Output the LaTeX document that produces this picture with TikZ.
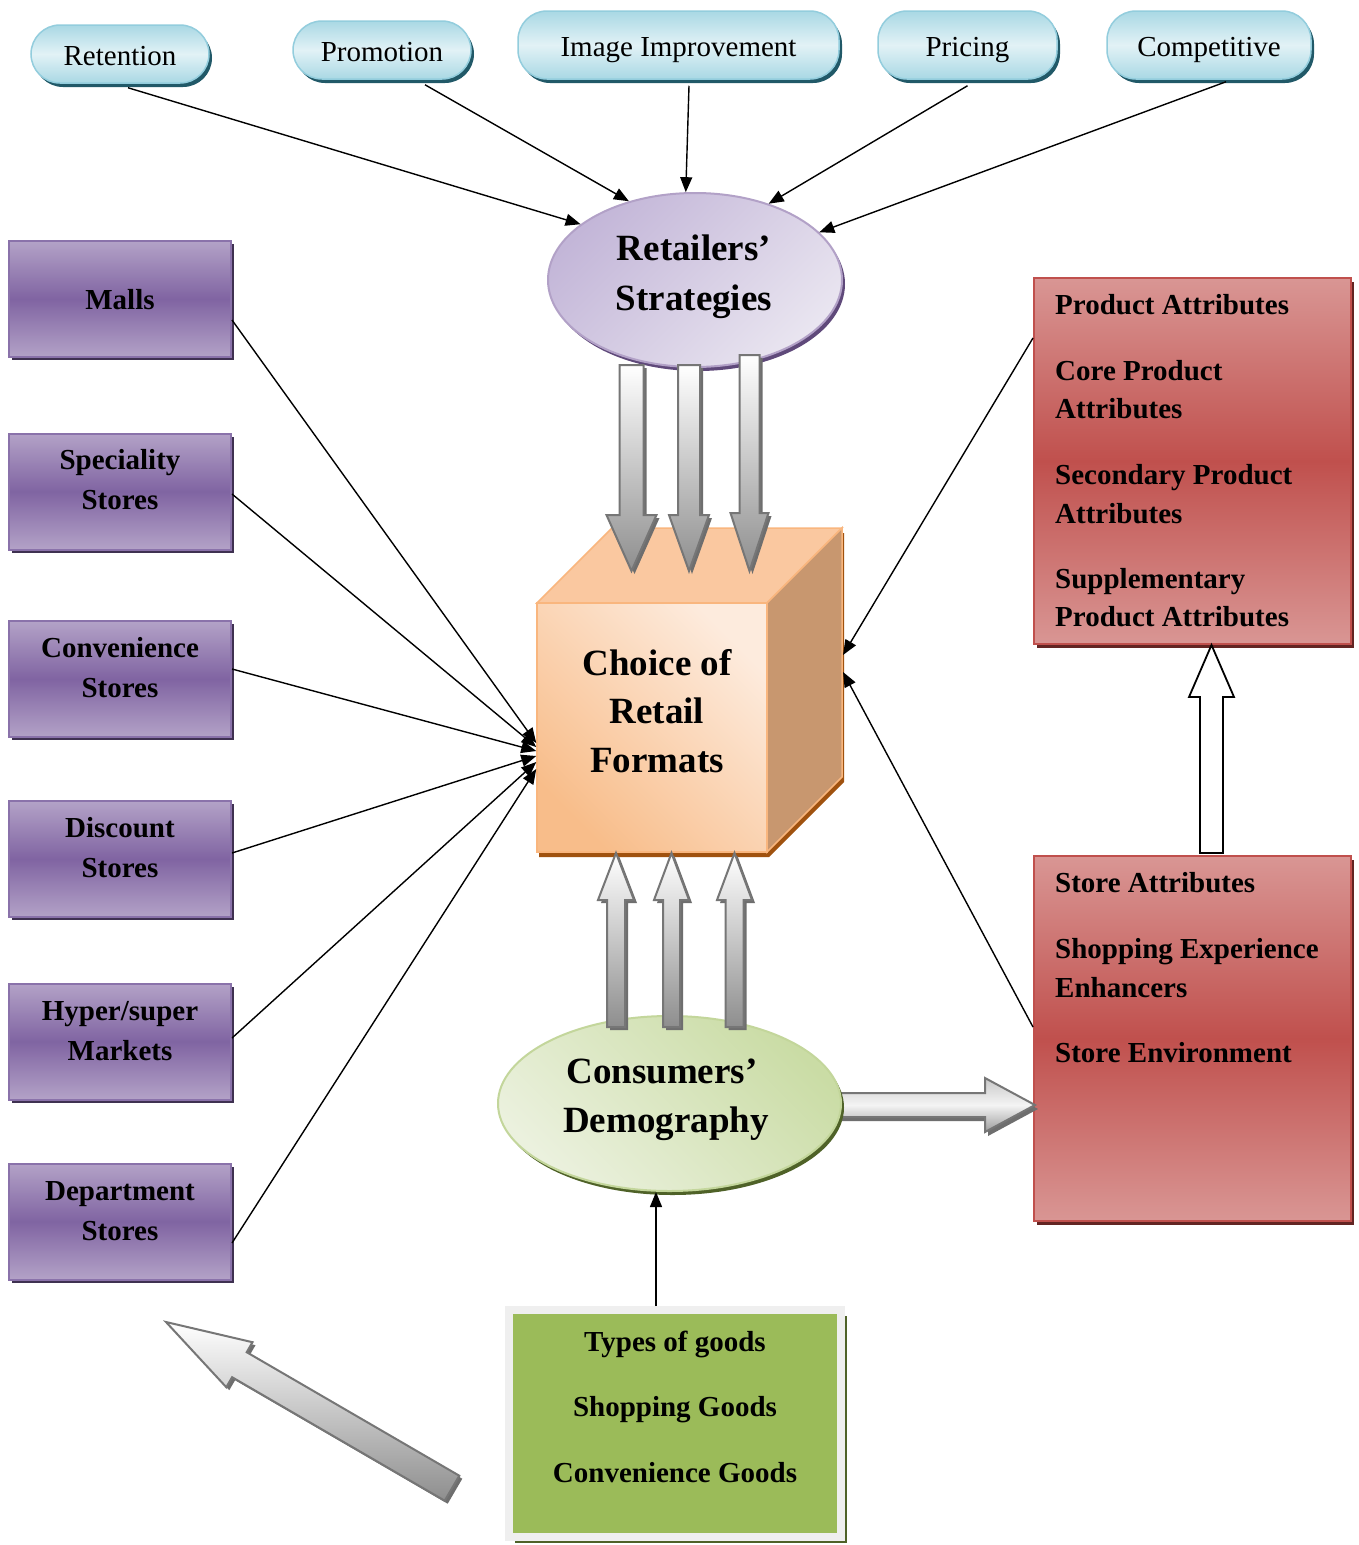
\documentclass[tikz,border=0pt]{standalone}
\usepackage{fontspec}
\setmainfont{Liberation Serif}
\usetikzlibrary{arrows.meta,shapes.geometric,shadows}

\definecolor{pillEdge}{HTML}{93CDDD}
\definecolor{pillDark}{HTML}{A9D8E4}
\definecolor{pillLight}{HTML}{E2F2F6}
\definecolor{pillShadow}{HTML}{215968}
\definecolor{purLight}{HTML}{B3A2C7}
\definecolor{purMid}{HTML}{8064A2}
\definecolor{purEdge}{HTML}{8A72AA}
\definecolor{purShadow}{HTML}{3F3151}
\definecolor{redLight}{HTML}{D99694}
\definecolor{redMid}{HTML}{C0504D}
\definecolor{redEdge}{HTML}{C0504D}
\definecolor{redShadow}{HTML}{632523}
\definecolor{lavDark}{HTML}{C3B6D8}
\definecolor{lavLight}{HTML}{E9E5F0}
\definecolor{lavEdge}{HTML}{B2A1C7}
\definecolor{lavShadow}{HTML}{5F497A}
\definecolor{grnLight}{HTML}{EBF1DE}
\definecolor{grnDark}{HTML}{CADCA5}
\definecolor{grnEdge}{HTML}{C3D69B}
\definecolor{grnShadow}{HTML}{4F6228}
\definecolor{goodsFill}{HTML}{9BBB59}
\definecolor{goodsFrame}{HTML}{EFEFEF}
\definecolor{cubeTop}{HTML}{FAC8A0}
\definecolor{cubeSide}{HTML}{C8976F}
\definecolor{cubeEdge}{HTML}{F9B67E}
\definecolor{cubeShadow}{HTML}{A0520F}
\definecolor{cubeMid}{HTML}{FCE0CA}
\definecolor{cubeUR}{HTML}{FDEBDD}
\definecolor{cubeLL}{HTML}{F8BD8A}
\definecolor{arrEdge}{HTML}{767676}
\definecolor{arrDark}{HTML}{8E8E8E}
\definecolor{arrShadow}{HTML}{6E6E6E}
\definecolor{hTop}{HTML}{C8C8C8}
\definecolor{hMid}{HTML}{F4F4F4}
\definecolor{hBot}{HTML}{9C9C9C}

% vertical block arrow: centre x, start y, head-base y, tip y, half shaft, half head
\newcommand\blockv[6]{%
  \path[blk] ({#1-#5},#2) -- ({#1+#5},#2) -- ({#1+#5},#3) -- ({#1+#6},#3)
    -- (#1,#4) -- ({#1-#6},#3) -- ({#1-#5},#3) -- cycle;}

\begin{document}
\begin{tikzpicture}[x=1pt, y=-1pt,
  pill/.style={rectangle, rounded corners=29pt, draw=pillEdge, line width=1.5pt,
    top color=pillDark, bottom color=pillDark, middle color=pillLight,
    general shadow={fill=pillShadow, shadow xshift=3pt, shadow yshift=-4pt},
    font=\fontsize{29}{34}\selectfont, text height=22pt, text depth=0pt, inner sep=0pt},
  pbox/.style={rectangle, minimum width=222pt, minimum height=116pt, draw=purEdge,
    line width=2pt, top color=purLight, bottom color=purLight, middle color=purMid,
    general shadow={fill=purShadow, shadow xshift=3pt, shadow yshift=-3pt}},
  rbox/.style={rectangle, minimum width=317pt, draw=redEdge, line width=2pt,
    top color=redLight, bottom color=redLight, middle color=redMid,
    general shadow={fill=redShadow, shadow xshift=3pt, shadow yshift=-4pt}},
  goodsbox/.style={rectangle, minimum width=332pt, minimum height=227pt, fill=goodsFill,
    draw=goodsFrame, line width=8pt,
    general shadow={fill=grnShadow, shadow xshift=6pt, shadow yshift=-6pt}},
  bigtxt/.style={font=\fontsize{37}{49}\selectfont\bfseries, inner sep=0pt, anchor=base},
  ctxt/.style={font=\fontsize{29}{40}\selectfont\bfseries, inner sep=0pt, anchor=base},
  ltxt/.style={font=\fontsize{29}{40}\selectfont\bfseries, inner sep=0pt, anchor=base west},
  blk/.style={draw=arrEdge, line width=2pt, top color=white, bottom color=arrDark,
    general shadow={fill=arrShadow, shadow xshift=3pt, shadow yshift=-3pt}},
  hblk/.style={draw=arrEdge, line width=2pt, top color=hTop, bottom color=hBot, middle color=hMid,
    general shadow={fill=arrShadow, shadow xshift=3pt, shadow yshift=-4pt}},
  hollow/.style={draw=black, line width=1.8pt, fill=white},
  conn/.style={draw=black, line width=1.4pt, -{Triangle[length=15pt,width=12pt]}}
]
\fill[white] (0,0) rectangle (1359,1545);
\useasboundingbox (0,0) rectangle (1359,1545);

% ---- strategy pills
\node[pill, minimum width=178pt, minimum height=58pt] (ret) at (120,54) {Retention};
\node[pill, minimum width=178pt, minimum height=58pt] (pro) at (382,50) {Promotion};
\node[pill, minimum width=321pt, minimum height=68pt] (img) at (678.5,45) {Image Improvement};
\node[pill, minimum width=179pt, minimum height=68pt] (pri) at (967.5,45) {Pricing};
\node[pill, minimum width=204pt, minimum height=68pt] (com) at (1209,45) {Competitive};

% ---- retailers' strategies
\node[ellipse, minimum width=294pt, minimum height=174pt, draw=lavEdge, line width=2pt,
  left color=lavDark, right color=lavLight, shading angle=45,
  general shadow={fill=lavShadow, shadow xshift=3pt, shadow yshift=-4pt}] (rs) at (695,280) {};
\node[bigtxt] (rs1) at (694,260) {Retailers’};
\node[bigtxt] (rs2) at (694,310) {Strategies};

% ---- retail format boxes
\node[pbox] (malls) at (120,299) {};
\node[pbox] (spec) at (120,491.5) {};
\node[pbox] (conv) at (120,679) {};
\node[pbox] (disc) at (120,859) {};
\node[pbox] (hyp) at (120,1041.5) {};
\node[pbox] (dep) at (120,1221.5) {};
\node[ctxt] (malls1) at (120,309) {Malls};
\node[ctxt] (spec1) at (120,469) {Speciality};
\node[ctxt] (spec2) at (120,509) {Stores};
\node[ctxt] (conv1) at (120,657) {Convenience};
\node[ctxt] (conv2) at (120,697) {Stores};
\node[ctxt] (disc1) at (120,837) {Discount};
\node[ctxt] (disc2) at (120,877) {Stores};
\node[ctxt] (hyp1) at (120,1020) {Hyper/super};
\node[ctxt] (hyp2) at (120,1060) {Markets};
\node[ctxt] (dep1) at (120,1200) {Department};
\node[ctxt] (dep2) at (120,1240) {Stores};

% ---- attribute boxes
\node[rbox, minimum height=366pt] (prod) at (1192.5,461) {};
\node[rbox, minimum height=365pt] (store) at (1192.5,1038.5) {};
\node[ltxt] (pa1) at (1055,314) {Product Attributes};
\node[ltxt] (pa2) at (1055,380) {Core Product};
\node[ltxt] (pa3) at (1055,418) {Attributes};
\node[ltxt] (pa4) at (1055,484) {Secondary Product};
\node[ltxt] (pa5) at (1055,523) {Attributes};
\node[ltxt] (pa6) at (1055,588) {Supplementary};
\node[ltxt] (pa7) at (1055,626) {Product Attributes};
\node[ltxt] (sa1) at (1055,892) {Store Attributes};
\node[ltxt] (sa2) at (1055,958) {Shopping Experience};
\node[ltxt] (sa3) at (1055,997) {Enhancers};
\node[ltxt] (sa4) at (1055,1062) {Store Environment};

% ---- hollow arrow from store to product attributes
\path[hollow] (1200,853) -- (1200,697) -- (1189,697) -- (1211.5,645) -- (1234,697)
  -- (1223,697) -- (1223,853) -- cycle;

% ---- cube: choice of retail formats
\fill[cubeShadow] (539,608) -- (614,533) -- (844,533) -- (844,782) -- (769,857) -- (539,857) -- cycle;
\filldraw[fill=cubeTop, draw=cubeEdge, line width=1.5pt]
  (537,603) -- (612,528) -- (842,528) -- (767,603) -- cycle;
\filldraw[fill=cubeSide, draw=cubeEdge, line width=1.5pt]
  (767,603) -- (842,528) -- (842,777) -- (767,852) -- cycle;
\node[rectangle, draw=cubeEdge, line width=1.5pt, left color=cubeLL, middle color=cubeMid,
  right color=cubeUR, shading angle=135, minimum width=230pt, minimum height=249pt,
  inner sep=0pt] (front) at (652,727.5) {};
\node[bigtxt] (cf1) at (657,675) {Choice of};
\node[bigtxt] (cf2) at (657,723) {Retail};
\node[bigtxt] (cf3) at (657,772) {Formats};
\coordinate (rf1) at (843,655);
\coordinate (rf2) at (843,672);

% ---- block arrows from strategies down to the cube
\blockv{631.5}{365}{515}{571}{12}{25}
\blockv{689}{365}{515}{571}{11}{20}
\blockv{749.5}{355}{513}{571}{10}{19}

% ---- consumers' demography
\path[hblk] (836,1093) -- (985,1093) -- (985,1078) -- (1035,1105) -- (985,1132)
  -- (985,1117) -- (836,1117) -- cycle;
\node[ellipse, minimum width=343pt, minimum height=175pt, draw=grnEdge, line width=2pt,
  left color=grnLight, right color=grnDark, shading angle=135,
  general shadow={fill=grnShadow, shadow xshift=3pt, shadow yshift=-4pt}] (cd) at (669.5,1103.5) {};
\node[bigtxt] (cd1) at (662,1083) {Consumers’};
\node[bigtxt] (cd2) at (666,1132) {Demography};

% ---- block arrows from demography up to the cube
\blockv{616}{1027}{900}{853}{9}{18}
\blockv{671.5}{1027}{900}{853}{8.5}{17.5}
\blockv{734.5}{1027}{900}{853}{9}{17.5}

% ---- types of goods
\node[goodsbox] (goods) at (675,1423.5) {};
\node[ctxt] (g1) at (675,1351) {Types of goods};
\node[ctxt] (g2) at (675,1416) {Shopping Goods};
\node[ctxt] (g3) at (675,1482) {Convenience Goods};

% ---- diagonal block arrow towards the format boxes
\path[blk] (166,1322) -- (252.5,1342.2) -- (246.7,1352.2) -- (459.3,1475.7)
  -- (444.7,1500.7) -- (232.1,1377.2) -- (226.3,1387.2) -- cycle;

% ---- connectors
\draw[conn] ([xshift=8pt,yshift=-4pt]ret.south) -- (rs.154);
\draw[conn] ([xshift=43pt,yshift=-5pt]pro.south) -- (rs.130.5);
\draw[conn] ([xshift=10.5pt,yshift=-6pt]img.south) -- (rs.96);
\draw[conn] ([yshift=-6pt]pri.south) -- (rs.46.5);
\draw[conn] ([xshift=17pt,yshift=-2pt]com.south) -- (rs.21);

\draw[conn] ([yshift=-21pt]malls.east) -- ([yshift=-15.5pt]front.west);
\draw[conn] ([yshift=-2.5pt]spec.east) -- ([yshift=-19.5pt]front.west);
\draw[conn] ([yshift=10pt]conv.east) -- ([yshift=-23.5pt]front.west);
\draw[conn] ([yshift=6pt]disc.east) -- ([yshift=-28.5pt]front.west);
\draw[conn] ([yshift=3.5pt]hyp.east) -- ([yshift=-34.5pt]front.west);
\draw[conn] ([yshift=-21.5pt]dep.east) -- ([yshift=-41.5pt]front.west);

\draw[conn] ([yshift=123pt]prod.west) -- (rf1);
\draw[conn] ([yshift=11.5pt]store.west) -- (rf2);

\coordinate (cdIn) at ([xshift=-13.5pt]cd.south);
\draw[conn] (cdIn |- goods.north) -- (cdIn);
\end{tikzpicture}
\end{document}
